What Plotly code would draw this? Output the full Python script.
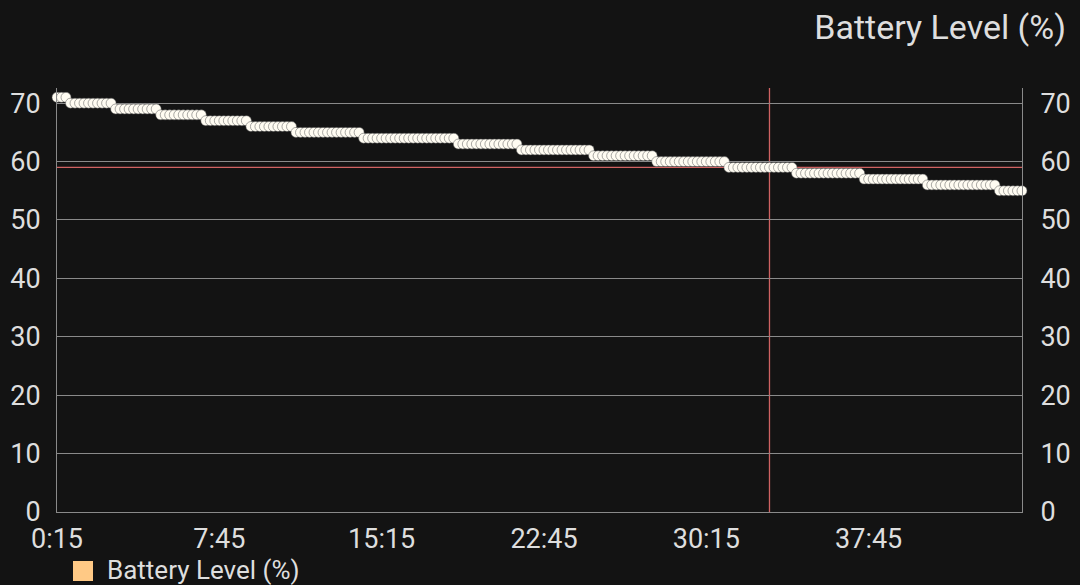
import plotly.graph_objects as go

# ---- data ----
sample_step_s = 12.5
start_s = 15
battery_level = [
    71, 71, 71,
    70, 70, 70, 70, 70, 70, 70, 70, 70, 70,
    69, 69, 69, 69, 69, 69, 69, 69, 69, 69,
    68, 68, 68, 68, 68, 68, 68, 68, 68, 68,
    67, 67, 67, 67, 67, 67, 67, 67, 67, 67,
    66, 66, 66, 66, 66, 66, 66, 66, 66, 66,
    65, 65, 65, 65, 65, 65, 65, 65, 65, 65, 65, 65, 65, 65, 65,
    64, 64, 64, 64, 64, 64, 64, 64, 64, 64, 64, 64, 64, 64, 64, 64, 64, 64, 64, 64, 64,
    63, 63, 63, 63, 63, 63, 63, 63, 63, 63, 63, 63, 63, 63,
    62, 62, 62, 62, 62, 62, 62, 62, 62, 62, 62, 62, 62, 62, 62, 62,
    61, 61, 61, 61, 61, 61, 61, 61, 61, 61, 61, 61, 61, 61,
    60, 60, 60, 60, 60, 60, 60, 60, 60, 60, 60, 60, 60, 60, 60, 60,
    59, 59, 59, 59, 59, 59, 59, 59, 59, 59, 59, 59, 59, 59, 59,
    58, 58, 58, 58, 58, 58, 58, 58, 58, 58, 58, 58, 58, 58, 58,
    57, 57, 57, 57, 57, 57, 57, 57, 57, 57, 57, 57, 57, 57,
    56, 56, 56, 56, 56, 56, 56, 56, 56, 56, 56, 56, 56, 56, 56, 56,
    55, 55, 55, 55, 55, 55,
]
time_s = [start_s + sample_step_s * i for i in range(len(battery_level))]

tick_seconds = [15, 465, 915, 1365, 1815, 2265]
tick_labels = ["0:15", "7:45", "15:15", "22:45", "30:15", "37:45"]
y_ticks = [0, 10, 20, 30, 40, 50, 60, 70]

cursor_time = 1990
cursor_value = 59
series_name = "Battery Level (%)"

# ---- styling ----
BG = "#131313"
TXT = "#dedede"
GRID = "#8a8a8a"
CURSOR = "#d06262"
SERIES = "#ffc985"
FONT = "Roboto"

fig = go.Figure()
fig.add_trace(go.Scatter(
    x=time_s, y=battery_level, mode="markers", name=series_name,
    marker=dict(size=10, color="#fffcf2", line=dict(color="#555555", width=0.5)),
    showlegend=False, cliponaxis=False,
))

fig.update_layout(
    width=1080, height=585,
    paper_bgcolor=BG, plot_bgcolor=BG,
    margin=dict(l=57, r=58, t=88, b=73),
    font=dict(family=FONT, color=TXT, size=27),
    title=dict(text=series_name, x=1066 / 1080, xanchor="right",
               y=1 - 27 / 585, yanchor="middle",
               font=dict(family=FONT, size=34, color=TXT)),
    xaxis=dict(range=[time_s[0], time_s[-1]], tickvals=tick_seconds, ticktext=tick_labels,
               showgrid=False, zeroline=False, showline=True, linecolor=GRID, linewidth=1,
               ticks="", ticklabelstandoff=3, tickfont=dict(size=27, color=TXT), automargin=False),
    yaxis=dict(range=[0, 72.6], tickvals=y_ticks, showgrid=True, gridcolor=GRID, gridwidth=1,
               zeroline=False, showline=True, linecolor=GRID, linewidth=1,
               ticks="", ticklabelstandoff=10, tickfont=dict(size=27, color=TXT), automargin=False),
    yaxis2=dict(range=[0, 72.6], tickvals=y_ticks, overlaying="y", side="right",
                showgrid=False, zeroline=False, showline=True, linecolor=GRID, linewidth=1,
                ticks="", ticklabelstandoff=12, tickfont=dict(size=27, color=TXT), automargin=False),
    showlegend=False,
)

# crosshair at the selected point
fig.add_shape(type="line", xref="x", yref="paper", x0=cursor_time, x1=cursor_time, y0=0, y1=1,
              line=dict(color=CURSOR, width=1.3), layer="between")
fig.add_shape(type="line", xref="paper", yref="y", x0=0, x1=1, y0=cursor_value, y1=cursor_value,
              line=dict(color=CURSOR, width=1.3), layer="between")

# legend (drawn manually to match the square swatch)
fig.add_shape(type="rect", xref="paper", yref="paper",
              x0=(73 - 57) / 965, x1=(93 - 57) / 965,
              y0=-(581 - 512) / 424, y1=-(561 - 512) / 424,
              fillcolor=SERIES, line=dict(width=0))
fig.add_annotation(text=series_name, xref="paper", yref="paper",
                   x=(106 - 57) / 965, y=-(570 - 512) / 424, xanchor="left", yanchor="middle",
                   showarrow=False, borderpad=0, font=dict(family=FONT, size=26, color=TXT))

# dummy trace to make the right-hand axis render
fig.add_trace(go.Scatter(x=[time_s[0]], y=[None], yaxis="y2", showlegend=False, hoverinfo="skip"))

fig.write_html(
    "out.html",
    config={"displayModeBar": False},
    post_script="document.body.style.margin='0';document.body.style.overflow='hidden';"
                "document.body.style.background='#131313';",
)
